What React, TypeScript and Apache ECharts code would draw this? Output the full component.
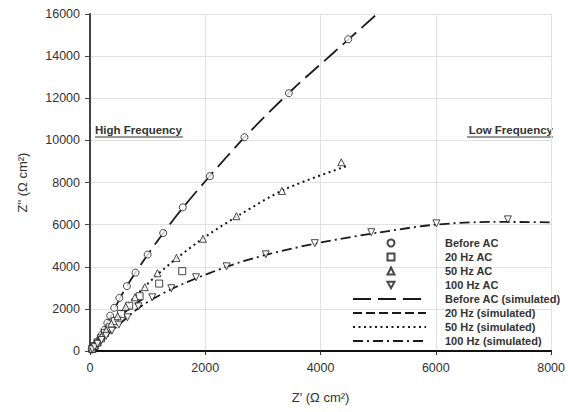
import React, { useEffect, useRef } from "react";
import * as echarts from "echarts";

const seriesNames = ["Before AC", "20 Hz AC", "50 Hz AC", "100 Hz AC"];
const simNames = ["Before AC (simulated)", "20 Hz (simulated)", "50 Hz (simulated)", "100 Hz (simulated)"];

const beforeAC: number[][] = [
  [30, 70], [60, 160], [100, 300], [150, 500], [200, 760], [250, 1000], [300, 1330], [350, 1680],
  [420, 2050], [510, 2520], [640, 3080], [790, 3720], [1000, 4580], [1270, 5600], [1610, 6820],
  [2080, 8300], [2680, 10150], [3450, 12240], [4480, 14800],
];
const hz20: number[][] = [
  [40, 100], [80, 230], [130, 400], [190, 600], [260, 850], [340, 1120], [430, 1420], [540, 1760],
  [680, 2150], [860, 2600], [1200, 3200], [1600, 3790],
];
const hz50: number[][] = [
  [40, 110], [80, 260], [130, 450], [200, 700], [280, 980], [370, 1300], [480, 1650], [620, 2100],
  [780, 2550], [950, 3030], [1170, 3690], [1500, 4420], [1960, 5330], [2540, 6400], [3330, 7600],
  [4360, 8960],
];
const hz100: number[][] = [
  [40, 90], [80, 200], [130, 340], [200, 520], [280, 720], [380, 960], [500, 1250], [650, 1600],
  [840, 2120], [1080, 2550], [1410, 2980], [1840, 3500], [2370, 4020], [3050, 4590], [3900, 5120],
  [4880, 5640], [6010, 6060], [7250, 6250],
];

const beforeSim: number[][] = [
  [0, 0], [100, 330], [300, 1320], [600, 2900], [1000, 4570], [1500, 6420], [2000, 8060],
  [2700, 10200], [3500, 12380], [4200, 14100], [4980, 16000],
];
const hz20Sim: number[][] = [[0, 0], [200, 640], [450, 1450], [700, 2050], [900, 2450]];
const hz50Sim: number[][] = [
  [0, 0], [300, 1050], [700, 2350], [1200, 3700], [1900, 5230], [2600, 6470], [3400, 7700], [4500, 8820],
];
const hz100Sim: number[][] = [
  [0, 0], [400, 1000], [900, 2150], [1500, 3050], [2400, 4030], [3100, 4600], [4000, 5150],
  [5000, 5620], [6000, 6000], [7000, 6130], [8000, 6110],
];

const xTicks = { min: 0, max: 8000, interval: 2000 };
const yTicks = { min: 0, max: 16000, interval: 2000 };

const FONT = "'Liberation Sans', Arial, sans-serif";
const INK = "#1a1a1a";
const DOWN_TRIANGLE = "path://M0,0L10,0L5,9Z";

export default function App() {
  const ref = useRef<HTMLDivElement>(null);
  useEffect(() => {
    if (!ref.current) return;
    const chart = echarts.init(ref.current, undefined, { renderer: "svg" });
    const scatterStyle = { color: "#fff", borderColor: INK, borderWidth: 1 };
    const mk = (name: string, data: number[][], symbol: string, rotate = 0, size = 7) => ({
      type: "scatter",
      name,
      data,
      symbol,
      symbolRotate: rotate,
      symbolSize: size,
      itemStyle: scatterStyle,
      z: 4,
    });
    const ln = (name: string, data: number[][], dash: number[], width = 1.8) => ({
      type: "line",
      name,
      data,
      smooth: 0.3,
      symbol: "none",
      showSymbol: false,
      lineStyle: { color: INK, width, type: dash },
      itemStyle: { color: INK },
      z: 2,
    });
    const legendText = { fontFamily: FONT, fontSize: 11, fontWeight: "bold", color: "#333", lineHeight: 12 };
    const plain = (v: number) => String(v);
    chart.setOption({
      animation: false,
      backgroundColor: "#fff",
      grid: { left: 90, right: 12, top: 14, bottom: 61, containLabel: false },
      xAxis: {
        type: "value",
        ...xTicks,
        name: "Z' (Ω cm²)",
        nameLocation: "middle",
        nameGap: 40,
        nameTextStyle: { fontFamily: FONT, fontSize: 13, color: "#333" },
        axisLine: { show: true, onZero: false, lineStyle: { color: "#111", width: 2 } },
        axisTick: { show: true, length: 4, lineStyle: { color: "#333" } },
        axisLabel: { fontFamily: FONT, fontSize: 12.5, color: "#333", margin: 10, formatter: plain },
        splitLine: { show: true, lineStyle: { color: "#e2e2e2", width: 1 } },
      },
      yAxis: {
        type: "value",
        ...yTicks,
        name: 'Z" (Ω cm²)',
        nameLocation: "middle",
        nameGap: 61,
        nameTextStyle: { fontFamily: FONT, fontSize: 13, color: "#333" },
        axisLine: { show: true, onZero: false, lineStyle: { color: "#444", width: 2 } },
        axisTick: { show: true, length: 5, lineStyle: { color: "#444" } },
        axisLabel: { fontFamily: FONT, fontSize: 12.5, color: "#333", margin: 10, formatter: plain },
        splitLine: { show: true, lineStyle: { color: "#e2e2e2", width: 1 } },
      },
      legend: [
        {
          orient: "vertical",
          left: 386.5,
          top: 237,
          itemWidth: 7,
          itemHeight: 7,
          itemGap: 2,
          padding: 0,
          data: [
            seriesNames[0],
            seriesNames[1],
            seriesNames[2],
            { name: seriesNames[3], icon: DOWN_TRIANGLE },
          ],
          textStyle: { ...legendText, padding: [0, 0, 0, 45.5] },
          selectedMode: false,
        },
        {
          orient: "vertical",
          left: 352,
          top: 293,
          itemWidth: 73,
          itemHeight: 7,
          itemGap: 2,
          padding: 0,
          data: simNames,
          itemStyle: { color: "rgba(0,0,0,0)", borderWidth: 0, opacity: 0 },
          textStyle: { ...legendText, padding: [0, 0, 0, 14] },
          selectedMode: false,
        },
      ],
      graphic: [
        {
          type: "text",
          x: 95,
          y: 130,
          style: { text: "High Frequency", fontFamily: FONT, fontSize: 11.5, fontWeight: "bold", fill: "#333", align: "left", verticalAlign: "middle" },
        },
        { type: "line", shape: { x1: 95, y1: 137, x2: 183, y2: 137 }, style: { stroke: "#333", lineWidth: 1 } },
        {
          type: "text",
          x: 553,
          y: 130,
          style: { text: "Low Frequency", fontFamily: FONT, fontSize: 11.5, fontWeight: "bold", fill: "#333", align: "right", verticalAlign: "middle" },
        },
        { type: "line", shape: { x1: 467, y1: 137, x2: 553, y2: 137 }, style: { stroke: "#333", lineWidth: 1 } },
      ],
      series: [
        ln(simNames[0], beforeSim, [18, 7]),
        ln(simNames[1], hz20Sim, [9, 4]),
        ln(simNames[2], hz50Sim, [2, 3.5], 2),
        ln(simNames[3], hz100Sim, [10, 4, 2, 4]),
        mk(seriesNames[0], beforeAC, "circle"),
        mk(seriesNames[1], hz20, "rect", 0, 7),
        mk(seriesNames[2], hz50, "triangle", 0, 7),
        mk(seriesNames[3], hz100, "triangle", 180, 7),
      ],
    });
    return () => chart.dispose();
  }, []);
  return <div ref={ref} style={{ width: 568, height: 412, position: "absolute", left: 0, top: 0 }} />;
}
